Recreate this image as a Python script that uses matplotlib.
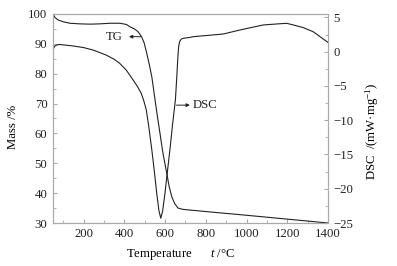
import numpy as np
import matplotlib
matplotlib.use("Agg")
import matplotlib.pyplot as plt
from matplotlib.ticker import MultipleLocator

plt.rcParams['font.family'] = ['Liberation Serif', 'DejaVu Serif']
plt.rcParams['mathtext.fontset'] = 'custom'
plt.rcParams['mathtext.rm'] = 'Liberation Serif'
plt.rcParams['mathtext.it'] = 'Liberation Serif:italic'

# TG curve (temperature in C, mass %)
tg_temp = [50, 60, 75, 100, 133, 180, 232, 280, 330, 379, 410, 428, 450, 467,
           485, 498, 510, 523, 535, 551, 563, 575, 590, 608, 620, 633, 648,
           664, 685, 713, 821, 983, 1200, 1400]
tg_mass = [100, 98.8, 98.0, 97.4, 96.9, 96.7, 96.6, 96.7, 96.9, 96.9, 96.5,
           95.7, 95.0, 94.1, 92.4, 90.2, 86.9, 83.0, 79.0, 71.2, 65.5, 60.1,
           53.3, 46.8, 42.3, 38.8, 36.4, 35.0, 34.6, 34.4, 33.7, 32.7, 31.3, 30.0]

# DSC curve (temperature in C, mW/mg)
dsc_temp = [50, 58, 70, 83, 148, 200, 246, 310, 350, 377, 410, 443, 465, 483,
            495, 508, 520, 535, 548, 559, 570, 579, 588, 600, 612, 624, 637,
            651, 658, 663, 667, 672, 680, 690, 715, 739, 886, 968, 1082, 1150,
            1197, 1230, 1280, 1328, 1400]
dsc_val = [0.3, 0.8, 1.0, 1.05, 0.84, 0.6, 0.25, -0.48, -1.1, -1.69, -2.7,
           -4.12, -5.1, -6.06, -7.1, -8.5, -10.9, -14.3, -17.6, -20.6, -23.2,
           -24.3, -23.3, -20.6, -17.4, -14.3, -10.6, -7.0, -3.5, -0.8, 0.8,
           1.5, 1.85, 1.96, 2.05, 2.19, 2.58, 3.17, 3.9, 4.05, 4.14, 3.9,
           3.5, 2.9, 1.35]

fs = 9.2
fig = plt.figure(figsize=(3.97, 2.66), dpi=100)
ax = fig.add_axes([53 / 397, 43 / 266, 275 / 397, 209 / 266])
ax2 = ax.twinx()

ax.plot(tg_temp, tg_mass, color='#222222', lw=0.8)
ax2.plot(dsc_temp, dsc_val, color='#222222', lw=0.8)

ax.set_xlim(50, 1400)
ax.set_ylim(30, 100)
ax2.set_ylim(-25, 5.5)

ax.xaxis.set_major_locator(MultipleLocator(200))
ax.xaxis.set_minor_locator(MultipleLocator(100))
ax.yaxis.set_major_locator(MultipleLocator(10))
ax.yaxis.set_minor_locator(MultipleLocator(5))
ax2.yaxis.set_major_locator(MultipleLocator(5))
ax2.yaxis.set_minor_locator(MultipleLocator(2.5))

for a in (ax, ax2):
    for s in a.spines.values():
        s.set_color('#aaaaaa')
        s.set_linewidth(0.8)
    a.tick_params(which='both', direction='in', color='#aaaaaa', labelsize=fs,
                  labelcolor='#222222')
    a.tick_params(which='major', length=3)
    a.tick_params(which='minor', length=2)
ax.tick_params(axis='y', pad=4)
ax2.tick_params(axis='y', pad=4)

ax2.set_yticks([5, 0, -5, -10, -15, -20, -25])
ax2.set_yticklabels(['5', '0', '\u22125', '\u221210', '\u221215', '\u221220', '\u221225'])

ax.set_ylabel('Mass /%', fontsize=fs)
ax.yaxis.set_label_coords(-0.125, 0.46)
ax2.set_ylabel('DSC  /(mW\u00b7mg$^{-1}$)', fontsize=fs)
ax2.yaxis.set_label_coords(1.13, 0.44)
ax.set_xlabel('Temperature      $\\it{t}$ /\u00b0C', fontsize=fs)
ax.xaxis.set_label_coords(0.465, -0.115)

# curve labels with arrows
ax.annotate('', xy=(423, 92.4), xytext=(482, 92.4),
            arrowprops=dict(arrowstyle='-|>', color='#222222', lw=0.7,
                            mutation_scale=5, shrinkA=0, shrinkB=0))
ax.text(350, 92.4, 'TG', fontsize=fs, ha='center', va='center', color='#222222')
ax2.annotate('', xy=(722, -7.8), xytext=(656, -7.8),
             arrowprops=dict(arrowstyle='-|>', color='#222222', lw=0.7,
                             mutation_scale=5, shrinkA=0, shrinkB=0))
ax2.text(737, -7.8, 'DSC', fontsize=fs, ha='left', va='center', color='#222222')

fig.savefig('out.png', dpi=100)
